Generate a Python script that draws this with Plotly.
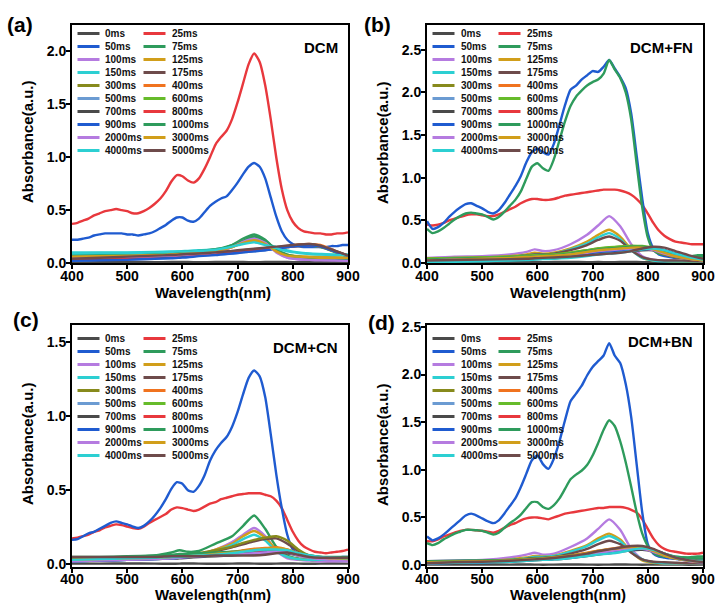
import plotly.graph_objects as go

# ---------------------------------------------------------------------------
# Wavelength grids (nm)
# ---------------------------------------------------------------------------
WL_FINE = list(range(400, 901, 10))
WL_COARSE = [400, 450, 500, 550, 580, 595, 610, 630, 660, 690,
             710, 730, 750, 770, 790, 810, 830, 850, 875, 900]

LABELS = ["0ms", "25ms", "50ms", "75ms", "100ms", "125ms", "150ms", "175ms",
          "300ms", "400ms", "500ms", "600ms", "700ms", "800ms", "900ms",
          "1000ms", "2000ms", "3000ms", "4000ms", "5000ms"]

COLORS = ["#4a4a4a", "#e8383d", "#1f5bd0", "#2e9b5c", "#b57be0", "#d19e1a",
          "#2ccfd2", "#6e4b4b", "#878a1c", "#f0731f", "#6b9bd2", "#66bb2a"]

Y_TICKS = [0.0, 0.5, 1.0, 1.5, 2.0, 2.5]
X_TICKS = [400, 500, 600, 700, 800, 900]

# ---------------------------------------------------------------------------
# DCM
# ---------------------------------------------------------------------------
DCM_0 = [0.010, 0.009, 0.010, 0.008, 0.009, 0.010, 0.009, 0.008, 0.009, 0.010,
         0.009, 0.008, 0.009, 0.010, 0.009, 0.008, 0.009, 0.010, 0.009, 0.008]
DCM_25 = [0.37, 0.38, 0.40, 0.42, 0.45, 0.47, 0.49, 0.50, 0.51, 0.50,
          0.49, 0.47, 0.47, 0.49, 0.52, 0.56, 0.61, 0.68, 0.77, 0.83,
          0.82, 0.78, 0.76, 0.80, 0.89, 1.00, 1.12, 1.19, 1.25, 1.36,
          1.52, 1.70, 1.88, 1.98, 1.90, 1.68, 1.36, 1.00, 0.70, 0.50,
          0.39, 0.33, 0.30, 0.29, 0.28, 0.28, 0.27, 0.27, 0.28, 0.28,
          0.29]
DCM_50 = [0.22, 0.22, 0.23, 0.24, 0.26, 0.27, 0.28, 0.28, 0.28, 0.28,
          0.27, 0.27, 0.26, 0.27, 0.28, 0.30, 0.33, 0.36, 0.40, 0.43,
          0.43, 0.40, 0.39, 0.42, 0.48, 0.54, 0.58, 0.61, 0.63, 0.69,
          0.76, 0.84, 0.91, 0.945, 0.91, 0.80, 0.62, 0.44, 0.30, 0.22,
          0.18, 0.16, 0.15, 0.15, 0.15, 0.15, 0.15, 0.16, 0.16, 0.17,
          0.17]
DCM_75 = [0.07, 0.075, 0.08, 0.085, 0.09, 0.095, 0.10, 0.105, 0.12, 0.17,
          0.23, 0.27, 0.22, 0.12, 0.06, 0.04, 0.035, 0.03, 0.03, 0.03]
DCM_100 = [0.06, 0.065, 0.07, 0.075, 0.08, 0.085, 0.09, 0.095, 0.11, 0.16,
           0.21, 0.24, 0.20, 0.11, 0.05, 0.035, 0.03, 0.03, 0.025, 0.025]
DCM_125 = [0.05, 0.055, 0.06, 0.07, 0.075, 0.08, 0.085, 0.09, 0.105, 0.15,
           0.19, 0.22, 0.19, 0.12, 0.08, 0.065, 0.06, 0.06, 0.055, 0.05]
DCM_150 = [0.10, 0.10, 0.10, 0.105, 0.11, 0.11, 0.115, 0.12, 0.13, 0.16,
           0.19, 0.20, 0.18, 0.15, 0.12, 0.10, 0.09, 0.085, 0.08, 0.08]
DCM_175 = [0.03, 0.04, 0.05, 0.06, 0.07, 0.075, 0.08, 0.085, 0.095, 0.11,
           0.12, 0.13, 0.14, 0.15, 0.16, 0.17, 0.175, 0.16, 0.11, 0.06]
DCM_300 = [0.04, 0.045, 0.05, 0.06, 0.065, 0.07, 0.075, 0.08, 0.09, 0.105,
           0.115, 0.125, 0.135, 0.145, 0.155, 0.165, 0.17, 0.155, 0.11, 0.07]
DCM_400 = [0.03, 0.04, 0.045, 0.055, 0.06, 0.065, 0.07, 0.08, 0.09, 0.10,
           0.11, 0.12, 0.13, 0.145, 0.16, 0.175, 0.18, 0.17, 0.12, 0.07]
DCM_500 = [0.02, 0.03, 0.035, 0.045, 0.05, 0.055, 0.06, 0.07, 0.08, 0.09,
           0.10, 0.11, 0.12, 0.135, 0.15, 0.16, 0.17, 0.16, 0.115, 0.065]
DCM_600 = [0.05, 0.055, 0.06, 0.065, 0.07, 0.075, 0.08, 0.085, 0.095, 0.105,
           0.115, 0.125, 0.13, 0.14, 0.15, 0.16, 0.165, 0.15, 0.105, 0.06]
DCM_700 = [0.03, 0.04, 0.045, 0.055, 0.06, 0.065, 0.07, 0.075, 0.085, 0.10,
           0.11, 0.12, 0.13, 0.14, 0.155, 0.165, 0.17, 0.16, 0.115, 0.07]
DCM_800 = [0.04, 0.045, 0.05, 0.06, 0.065, 0.07, 0.075, 0.08, 0.09, 0.10,
           0.11, 0.12, 0.13, 0.14, 0.15, 0.16, 0.165, 0.155, 0.11, 0.065]
DCM_900 = [0.02, 0.025, 0.03, 0.04, 0.045, 0.05, 0.055, 0.065, 0.075, 0.09,
           0.10, 0.11, 0.12, 0.135, 0.15, 0.16, 0.165, 0.155, 0.11, 0.06]
DCM_1000 = [0.08, 0.085, 0.09, 0.095, 0.10, 0.105, 0.11, 0.115, 0.13, 0.17,
            0.21, 0.25, 0.21, 0.13, 0.08, 0.06, 0.05, 0.045, 0.04, 0.04]
DCM_2000 = [0.05, 0.055, 0.06, 0.065, 0.07, 0.075, 0.08, 0.09, 0.10, 0.15,
            0.20, 0.23, 0.19, 0.10, 0.05, 0.035, 0.03, 0.025, 0.025, 0.02]
DCM_3000 = [0.06, 0.065, 0.07, 0.075, 0.08, 0.085, 0.09, 0.095, 0.11, 0.15,
            0.19, 0.215, 0.18, 0.11, 0.07, 0.06, 0.055, 0.05, 0.05, 0.05]
DCM_4000 = [0.09, 0.095, 0.095, 0.10, 0.105, 0.11, 0.11, 0.115, 0.125, 0.155,
            0.18, 0.195, 0.17, 0.14, 0.11, 0.095, 0.085, 0.08, 0.075, 0.075]
DCM_5000 = [0.04, 0.05, 0.06, 0.07, 0.075, 0.08, 0.085, 0.09, 0.10, 0.115,
            0.125, 0.135, 0.145, 0.155, 0.165, 0.175, 0.18, 0.165, 0.12, 0.07]

# ---------------------------------------------------------------------------
# DCM+FN
# ---------------------------------------------------------------------------
FN_0 = [0.012, 0.010, 0.011, 0.010, 0.012, 0.011, 0.010, 0.011, 0.012, 0.010,
        0.011, 0.010, 0.011, 0.012, 0.010, 0.011, 0.010, 0.011, 0.010, 0.011]
FN_25 = [0.45, 0.44, 0.45, 0.47, 0.50, 0.52, 0.54, 0.56, 0.57, 0.57,
         0.56, 0.55, 0.55, 0.57, 0.60, 0.63, 0.66, 0.70, 0.73, 0.75,
         0.75, 0.74, 0.74, 0.75, 0.77, 0.79, 0.80, 0.81, 0.82, 0.83,
         0.84, 0.85, 0.86, 0.86, 0.86, 0.85, 0.83, 0.80, 0.75, 0.68,
         0.58, 0.47, 0.38, 0.32, 0.28, 0.25, 0.24, 0.23, 0.22, 0.22,
         0.22]
FN_50 = [0.49, 0.40, 0.42, 0.47, 0.54, 0.60, 0.65, 0.69, 0.70, 0.67,
         0.64, 0.60, 0.58, 0.62, 0.70, 0.80, 0.90, 1.02, 1.18, 1.30,
         1.34, 1.30, 1.27, 1.40, 1.62, 1.85, 2.03, 2.08, 2.15, 2.20,
         2.25, 2.24, 2.30, 2.38, 2.28, 2.18, 2.05, 1.75, 1.25, 0.75,
         0.35, 0.17, 0.10, 0.08, 0.07, 0.06, 0.06, 0.05, 0.05, 0.05,
         0.05]
FN_75 = [0.40, 0.35, 0.37, 0.41, 0.46, 0.51, 0.55, 0.58, 0.59, 0.58,
         0.57, 0.54, 0.51, 0.54, 0.60, 0.67, 0.74, 0.84, 0.99, 1.13,
         1.17, 1.11, 1.08, 1.22, 1.44, 1.66, 1.84, 1.95, 2.02, 2.08,
         2.12, 2.15, 2.22, 2.38, 2.27, 2.17, 2.00, 1.68, 1.15, 0.65,
         0.30, 0.15, 0.11, 0.10, 0.09, 0.08, 0.08, 0.08, 0.08, 0.09,
         0.09]
FN_100 = [0.06, 0.075, 0.08, 0.10, 0.13, 0.16, 0.14, 0.15, 0.22, 0.33,
          0.44, 0.55, 0.43, 0.22, 0.08, 0.04, 0.03, 0.03, 0.025, 0.02]
FN_125 = [0.05, 0.06, 0.065, 0.08, 0.10, 0.12, 0.11, 0.12, 0.17, 0.25,
          0.33, 0.39, 0.31, 0.16, 0.06, 0.03, 0.025, 0.02, 0.02, 0.02]
FN_150 = [0.03, 0.04, 0.05, 0.07, 0.09, 0.10, 0.10, 0.11, 0.16, 0.23,
          0.30, 0.35, 0.28, 0.15, 0.06, 0.03, 0.02, 0.02, 0.02, 0.02]
FN_175 = [0.04, 0.05, 0.06, 0.07, 0.09, 0.10, 0.10, 0.11, 0.15, 0.21,
          0.27, 0.31, 0.26, 0.15, 0.07, 0.04, 0.03, 0.03, 0.025, 0.02]
FN_300 = [0.05, 0.055, 0.06, 0.07, 0.08, 0.09, 0.09, 0.10, 0.12, 0.15,
          0.17, 0.18, 0.19, 0.20, 0.19, 0.15, 0.10, 0.07, 0.05, 0.04]
FN_400 = [0.04, 0.05, 0.055, 0.065, 0.075, 0.08, 0.085, 0.09, 0.11, 0.14,
          0.16, 0.17, 0.18, 0.19, 0.19, 0.16, 0.11, 0.08, 0.06, 0.04]
FN_500 = [0.02, 0.03, 0.035, 0.045, 0.055, 0.06, 0.065, 0.07, 0.09, 0.11,
          0.13, 0.14, 0.15, 0.16, 0.17, 0.175, 0.15, 0.11, 0.07, 0.04]
FN_600 = [0.05, 0.06, 0.065, 0.075, 0.085, 0.09, 0.095, 0.10, 0.12, 0.15,
          0.17, 0.185, 0.195, 0.20, 0.20, 0.18, 0.14, 0.10, 0.07, 0.05]
FN_700 = [0.02, 0.025, 0.03, 0.035, 0.04, 0.045, 0.05, 0.055, 0.07, 0.09,
          0.11, 0.12, 0.13, 0.14, 0.15, 0.15, 0.13, 0.10, 0.06, 0.03]
FN_800 = [0.03, 0.035, 0.04, 0.05, 0.06, 0.065, 0.07, 0.075, 0.09, 0.11,
          0.13, 0.14, 0.15, 0.16, 0.17, 0.17, 0.15, 0.11, 0.07, 0.04]
FN_900 = [0.02, 0.025, 0.03, 0.04, 0.05, 0.055, 0.06, 0.065, 0.08, 0.10,
          0.12, 0.13, 0.14, 0.15, 0.16, 0.165, 0.15, 0.11, 0.07, 0.04]
FN_1000 = [0.04, 0.05, 0.055, 0.065, 0.075, 0.08, 0.085, 0.09, 0.11, 0.14,
           0.16, 0.17, 0.18, 0.19, 0.19, 0.17, 0.13, 0.10, 0.08, 0.08]
FN_2000 = [0.03, 0.04, 0.045, 0.055, 0.065, 0.07, 0.075, 0.08, 0.10, 0.12,
           0.14, 0.15, 0.16, 0.17, 0.17, 0.15, 0.11, 0.08, 0.05, 0.03]
FN_3000 = [0.03, 0.04, 0.05, 0.06, 0.07, 0.075, 0.08, 0.085, 0.10, 0.13,
           0.15, 0.16, 0.17, 0.18, 0.18, 0.16, 0.12, 0.08, 0.05, 0.03]
FN_4000 = [0.01, 0.015, 0.02, 0.03, 0.035, 0.04, 0.045, 0.05, 0.06, 0.08,
           0.10, 0.11, 0.12, 0.14, 0.16, 0.17, 0.15, 0.11, 0.07, 0.04]
FN_5000 = [0.03, 0.035, 0.04, 0.045, 0.05, 0.055, 0.06, 0.065, 0.075, 0.09,
           0.10, 0.11, 0.12, 0.14, 0.17, 0.19, 0.18, 0.14, 0.09, 0.05]

# ---------------------------------------------------------------------------
# DCM+CN
# ---------------------------------------------------------------------------
CN_0 = [0.006, 0.005, 0.006, 0.005, 0.004, 0.005, 0.006, 0.005, 0.004, 0.005,
        0.006, 0.005, 0.004, 0.005, 0.006, 0.005, 0.004, 0.005, 0.006, 0.005]
CN_25 = [0.175, 0.18, 0.19, 0.20, 0.22, 0.23, 0.25, 0.26, 0.27, 0.265,
         0.255, 0.245, 0.24, 0.255, 0.28, 0.30, 0.32, 0.34, 0.37, 0.385,
         0.38, 0.37, 0.36, 0.37, 0.39, 0.41, 0.42, 0.44, 0.45, 0.46,
         0.47, 0.475, 0.48, 0.48, 0.48, 0.47, 0.46, 0.43, 0.38, 0.30,
         0.22, 0.16, 0.12, 0.10, 0.085, 0.08, 0.075, 0.08, 0.085, 0.09,
         0.10]
CN_50 = [0.165, 0.17, 0.19, 0.21, 0.22, 0.24, 0.26, 0.28, 0.29, 0.28,
         0.27, 0.255, 0.245, 0.26, 0.29, 0.33, 0.38, 0.44, 0.51, 0.555,
         0.545, 0.50, 0.49, 0.53, 0.60, 0.70, 0.77, 0.82, 0.86, 0.93,
         1.03, 1.15, 1.26, 1.31, 1.27, 1.13, 0.88, 0.61, 0.38, 0.20,
         0.10, 0.07, 0.055, 0.05, 0.045, 0.04, 0.04, 0.04, 0.045, 0.05,
         0.05]
CN_75 = [0.04, 0.045, 0.05, 0.06, 0.08, 0.095, 0.085, 0.09, 0.14, 0.19,
         0.26, 0.33, 0.24, 0.12, 0.06, 0.04, 0.035, 0.03, 0.03, 0.03]
CN_100 = [0.03, 0.035, 0.04, 0.045, 0.05, 0.06, 0.06, 0.07, 0.10, 0.15,
          0.20, 0.245, 0.19, 0.09, 0.04, 0.03, 0.025, 0.02, 0.02, 0.02]
CN_125 = [0.03, 0.035, 0.04, 0.045, 0.05, 0.055, 0.06, 0.07, 0.10, 0.14,
          0.19, 0.225, 0.18, 0.10, 0.05, 0.035, 0.03, 0.03, 0.03, 0.03]
CN_150 = [0.02, 0.025, 0.03, 0.035, 0.04, 0.045, 0.05, 0.06, 0.09, 0.13,
          0.17, 0.20, 0.16, 0.09, 0.05, 0.035, 0.03, 0.03, 0.03, 0.03]
CN_175 = [0.03, 0.035, 0.04, 0.045, 0.05, 0.055, 0.06, 0.07, 0.09, 0.115,
          0.135, 0.155, 0.17, 0.175, 0.14, 0.09, 0.06, 0.05, 0.04, 0.03]
CN_300 = [0.04, 0.04, 0.045, 0.05, 0.055, 0.06, 0.065, 0.075, 0.095, 0.12,
          0.145, 0.165, 0.18, 0.19, 0.16, 0.10, 0.06, 0.05, 0.04, 0.035]
CN_400 = [0.03, 0.035, 0.04, 0.045, 0.05, 0.055, 0.06, 0.065, 0.075, 0.085,
          0.095, 0.105, 0.11, 0.115, 0.10, 0.07, 0.05, 0.04, 0.035, 0.03]
CN_500 = [0.02, 0.025, 0.03, 0.035, 0.04, 0.045, 0.05, 0.055, 0.065, 0.075,
          0.08, 0.085, 0.09, 0.095, 0.09, 0.07, 0.05, 0.04, 0.03, 0.03]
CN_600 = [0.04, 0.045, 0.05, 0.055, 0.06, 0.065, 0.065, 0.07, 0.075, 0.08,
          0.085, 0.09, 0.095, 0.10, 0.09, 0.07, 0.055, 0.045, 0.04, 0.04]
CN_700 = [0.02, 0.025, 0.03, 0.035, 0.04, 0.04, 0.045, 0.05, 0.055, 0.06,
          0.065, 0.07, 0.075, 0.08, 0.075, 0.06, 0.05, 0.04, 0.035, 0.03]
CN_800 = [0.03, 0.035, 0.04, 0.045, 0.05, 0.055, 0.055, 0.06, 0.065, 0.07,
          0.075, 0.08, 0.085, 0.09, 0.085, 0.07, 0.055, 0.045, 0.04, 0.04]
CN_900 = [0.02, 0.025, 0.03, 0.035, 0.04, 0.045, 0.05, 0.055, 0.06, 0.065,
          0.07, 0.075, 0.08, 0.085, 0.08, 0.065, 0.05, 0.04, 0.035, 0.03]
CN_1000 = [0.05, 0.05, 0.055, 0.06, 0.065, 0.07, 0.07, 0.075, 0.08, 0.085,
           0.09, 0.095, 0.10, 0.105, 0.095, 0.075, 0.06, 0.05, 0.05, 0.05]
CN_2000 = [0.02, 0.025, 0.03, 0.035, 0.04, 0.045, 0.05, 0.055, 0.06, 0.065,
           0.07, 0.075, 0.08, 0.085, 0.08, 0.06, 0.045, 0.035, 0.03, 0.03]
CN_3000 = [0.03, 0.035, 0.04, 0.045, 0.05, 0.055, 0.055, 0.06, 0.07, 0.08,
           0.09, 0.10, 0.105, 0.11, 0.10, 0.075, 0.055, 0.045, 0.04, 0.035]
CN_4000 = [0.03, 0.035, 0.04, 0.045, 0.05, 0.05, 0.055, 0.06, 0.065, 0.075,
           0.085, 0.095, 0.10, 0.10, 0.095, 0.075, 0.06, 0.05, 0.045, 0.04]
CN_5000 = [0.05, 0.05, 0.05, 0.05, 0.055, 0.055, 0.055, 0.055, 0.06, 0.06,
           0.06, 0.06, 0.065, 0.075, 0.08, 0.065, 0.05, 0.045, 0.045, 0.045]

# ---------------------------------------------------------------------------
# DCM+BN
# ---------------------------------------------------------------------------
BN_0 = [0.006, 0.005, 0.006, 0.005, 0.006, 0.005, 0.004, 0.005, 0.006, 0.005,
        0.004, 0.005, 0.006, 0.005, 0.004, 0.005, 0.006, 0.005, 0.004, 0.005]
BN_25 = [0.25, 0.25, 0.27, 0.30, 0.32, 0.34, 0.36, 0.37, 0.37, 0.365,
         0.36, 0.35, 0.34, 0.36, 0.39, 0.42, 0.44, 0.47, 0.49, 0.50,
         0.50, 0.49, 0.48, 0.50, 0.52, 0.54, 0.55, 0.56, 0.57, 0.58,
         0.59, 0.60, 0.60, 0.61, 0.61, 0.61, 0.60, 0.58, 0.55, 0.48,
         0.38, 0.28, 0.21, 0.17, 0.15, 0.14, 0.13, 0.12, 0.12, 0.12,
         0.13]
BN_50 = [0.30, 0.26, 0.28, 0.32, 0.37, 0.42, 0.47, 0.52, 0.54, 0.52,
         0.49, 0.46, 0.44, 0.47, 0.54, 0.62, 0.70, 0.82, 0.96, 1.10,
         1.15, 1.06, 1.01, 1.12, 1.30, 1.52, 1.72, 1.80, 1.88, 1.99,
         2.08, 2.14, 2.20, 2.33, 2.20, 2.12, 1.90, 1.55, 1.05, 0.55,
         0.22, 0.12, 0.09, 0.08, 0.07, 0.065, 0.06, 0.06, 0.055, 0.05,
         0.05]
BN_75 = [0.23, 0.21, 0.23, 0.27, 0.30, 0.33, 0.35, 0.37, 0.37, 0.365,
         0.36, 0.34, 0.32, 0.34, 0.39, 0.44, 0.48, 0.53, 0.60, 0.66,
         0.66, 0.61, 0.59, 0.63, 0.70, 0.80, 0.90, 0.95, 0.99, 1.05,
         1.15, 1.28, 1.42, 1.52, 1.46, 1.30, 1.08, 0.82, 0.55, 0.33,
         0.20, 0.13, 0.10, 0.09, 0.085, 0.08, 0.08, 0.08, 0.085, 0.09,
         0.09]
BN_100 = [0.04, 0.05, 0.055, 0.08, 0.11, 0.13, 0.11, 0.12, 0.19, 0.28,
          0.38, 0.48, 0.37, 0.17, 0.06, 0.03, 0.02, 0.02, 0.02, 0.02]
BN_125 = [0.03, 0.04, 0.045, 0.06, 0.08, 0.095, 0.09, 0.10, 0.15, 0.21,
          0.28, 0.33, 0.27, 0.14, 0.05, 0.025, 0.02, 0.02, 0.02, 0.02]
BN_150 = [0.03, 0.035, 0.04, 0.055, 0.07, 0.085, 0.085, 0.095, 0.14, 0.20,
          0.26, 0.305, 0.25, 0.14, 0.06, 0.03, 0.02, 0.02, 0.02, 0.02]
BN_175 = [0.03, 0.035, 0.04, 0.05, 0.065, 0.075, 0.075, 0.085, 0.12, 0.17,
          0.22, 0.255, 0.22, 0.13, 0.06, 0.035, 0.03, 0.025, 0.02, 0.02]
BN_300 = [0.03, 0.035, 0.04, 0.05, 0.06, 0.065, 0.07, 0.08, 0.10, 0.125,
          0.145, 0.16, 0.175, 0.19, 0.19, 0.15, 0.10, 0.07, 0.05, 0.04]
BN_400 = [0.03, 0.035, 0.04, 0.05, 0.06, 0.065, 0.07, 0.08, 0.10, 0.13,
          0.15, 0.17, 0.185, 0.195, 0.19, 0.15, 0.10, 0.07, 0.05, 0.04]
BN_500 = [0.02, 0.025, 0.03, 0.04, 0.05, 0.055, 0.06, 0.065, 0.085, 0.11,
          0.13, 0.145, 0.16, 0.175, 0.18, 0.16, 0.12, 0.08, 0.05, 0.03]
BN_600 = [0.03, 0.035, 0.04, 0.05, 0.055, 0.06, 0.065, 0.075, 0.095, 0.12,
          0.14, 0.155, 0.17, 0.185, 0.185, 0.15, 0.10, 0.07, 0.05, 0.04]
BN_700 = [0.02, 0.025, 0.03, 0.035, 0.045, 0.05, 0.055, 0.06, 0.075, 0.095,
          0.11, 0.125, 0.14, 0.155, 0.16, 0.14, 0.10, 0.07, 0.045, 0.03]
BN_800 = [0.03, 0.035, 0.04, 0.045, 0.055, 0.06, 0.065, 0.07, 0.085, 0.105,
          0.125, 0.14, 0.155, 0.17, 0.175, 0.15, 0.11, 0.08, 0.055, 0.04]
BN_900 = [0.02, 0.025, 0.03, 0.04, 0.05, 0.055, 0.06, 0.065, 0.08, 0.10,
          0.12, 0.135, 0.15, 0.165, 0.17, 0.15, 0.11, 0.075, 0.05, 0.035]
BN_1000 = [0.04, 0.045, 0.05, 0.055, 0.065, 0.07, 0.075, 0.08, 0.10, 0.12,
           0.14, 0.155, 0.17, 0.185, 0.19, 0.16, 0.12, 0.09, 0.075, 0.07]
BN_2000 = [0.02, 0.03, 0.035, 0.045, 0.055, 0.06, 0.065, 0.07, 0.09, 0.11,
           0.13, 0.145, 0.16, 0.17, 0.17, 0.14, 0.10, 0.07, 0.04, 0.03]
BN_3000 = [0.03, 0.035, 0.04, 0.05, 0.06, 0.065, 0.07, 0.08, 0.10, 0.125,
           0.15, 0.165, 0.18, 0.19, 0.185, 0.15, 0.10, 0.07, 0.045, 0.035]
BN_4000 = [0.02, 0.025, 0.03, 0.035, 0.045, 0.05, 0.055, 0.06, 0.075, 0.095,
           0.11, 0.12, 0.135, 0.16, 0.175, 0.16, 0.12, 0.08, 0.05, 0.035]
BN_5000 = [0.02, 0.03, 0.035, 0.045, 0.055, 0.06, 0.065, 0.075, 0.095, 0.12,
           0.145, 0.165, 0.185, 0.20, 0.20, 0.17, 0.12, 0.08, 0.05, 0.03]

# ---------------------------------------------------------------------------
# Panel table
# ---------------------------------------------------------------------------
PANELS = [
    dict(tag="(a)", name="DCM", ymax=2.0, yrange=[0.0, 2.25],
         box=(72, 25, 348, 263), tagxy=(5, 24), namey=48, legtop=33.5,
         xtitle_gap=29, xlab_shift=-5,
         series=[DCM_0, DCM_25, DCM_50, DCM_75, DCM_100, DCM_125, DCM_150,
                 DCM_175, DCM_300, DCM_400, DCM_500, DCM_600, DCM_700,
                 DCM_800, DCM_900, DCM_1000, DCM_2000, DCM_3000, DCM_4000,
                 DCM_5000]),
    dict(tag="(b)", name="DCM+FN", ymax=2.5, yrange=[0.0, 2.79],
         box=(427, 25, 703, 263), tagxy=(362, 24), namey=48, legtop=33.5,
         xtitle_gap=29, xlab_shift=-5,
         series=[FN_0, FN_25, FN_50, FN_75, FN_100, FN_125, FN_150, FN_175,
                 FN_300, FN_400, FN_500, FN_600, FN_700, FN_800, FN_900,
                 FN_1000, FN_2000, FN_3000, FN_4000, FN_5000]),
    dict(tag="(c)", name="DCM+CN", ymax=1.5, yrange=[-0.018, 1.617],
         box=(72, 325, 348, 567), tagxy=(11, 319), namey=347, legtop=338.5,
         xtitle_gap=27, xlab_shift=-6,
         series=[CN_0, CN_25, CN_50, CN_75, CN_100, CN_125, CN_150, CN_175,
                 CN_300, CN_400, CN_500, CN_600, CN_700, CN_800, CN_900,
                 CN_1000, CN_2000, CN_3000, CN_4000, CN_5000]),
    dict(tag="(d)", name="DCM+BN", ymax=2.5, yrange=[-0.02, 2.52],
         box=(427, 325, 703, 567), tagxy=(366, 322), namey=341, legtop=338.5,
         xtitle_gap=27, xlab_shift=-6,
         series=[BN_0, BN_25, BN_50, BN_75, BN_100, BN_125, BN_150, BN_175,
                 BN_300, BN_400, BN_500, BN_600, BN_700, BN_800, BN_900,
                 BN_1000, BN_2000, BN_3000, BN_4000, BN_5000]),
]

W, H = 717, 603
FONT = "Arial, Liberation Sans, sans-serif"


def px(x):
    return x / W


def py(y):
    return 1 - y / H


fig = go.Figure()
layout = dict(width=W, height=H, margin=dict(l=0, r=0, t=0, b=0, pad=0),
              autosize=False, paper_bgcolor="white", plot_bgcolor="white",
              showlegend=False)
annotations = []
shapes = []

for k, p in enumerate(PANELS, start=1):
    sfx = "" if k == 1 else str(k)
    L, T, R, B = p["box"]

    # spectra, drawn in acquisition order
    for i, (lab, vals) in enumerate(zip(LABELS, p["series"])):
        wl = WL_FINE if len(vals) == len(WL_FINE) else WL_COARSE
        fig.add_trace(go.Scatter(
            x=wl, y=vals, mode="lines", name=lab,
            line=dict(color=COLORS[i % len(COLORS)], width=2.4,
                      shape="spline", smoothing=0.6),
            xaxis="x" + sfx, yaxis="y" + sfx, hoverinfo="skip"))

    axis_common = dict(showline=True, linecolor="black", linewidth=2,
                       mirror=True, ticks="outside", ticklen=4, tickwidth=2,
                       tickcolor="black", showgrid=False, zeroline=False,
                       automargin=False,
                       tickfont=dict(family=FONT, size=14, color="black",
                                     weight="bold"))
    layout["xaxis" + sfx] = dict(axis_common, domain=[px(L), px(R)],
                                 range=[400, 900], tickvals=X_TICKS,
                                 ticklabelstandoff=p["xlab_shift"],
                                 anchor="y" + sfx)
    layout["yaxis" + sfx] = dict(axis_common, domain=[py(B), py(T)],
                                 range=p["yrange"],
                                 tickvals=[t for t in Y_TICKS if t <= p["ymax"]],
                                 tickformat=".1f", ticklabelstandoff=-3,
                                 anchor="x" + sfx)

    # axis titles
    annotations.append(dict(text="Wavelength(nm)", xref="paper", yref="paper",
                            x=px((L + R) / 2 + 3), y=py(B + p["xtitle_gap"]),
                            xanchor="center", yanchor="middle", showarrow=False,
                            font=dict(family=FONT, size=15, color="black",
                                      weight="bold")))
    annotations.append(dict(text="Absorbance(a.u.)", xref="paper", yref="paper",
                            x=px(L - 45), y=py((T + B) / 2 - 2), textangle=-90,
                            xanchor="center", yanchor="middle", showarrow=False,
                            font=dict(family=FONT, size=15, color="black",
                                      weight="bold")))
    # panel tag and sample name
    annotations.append(dict(text=p["tag"], xref="paper", yref="paper",
                            x=px(p["tagxy"][0]), y=py(p["tagxy"][1]),
                            xanchor="left", yanchor="middle", showarrow=False,
                            font=dict(family=FONT, size=21, color="black",
                                      weight="bold")))
    annotations.append(dict(text=p["name"], xref="paper", yref="paper",
                            x=px(R - 8), y=py(p["namey"]),
                            xanchor="right", yanchor="middle", showarrow=False,
                            font=dict(family=FONT, size=15, color="black",
                                      weight="bold")))

    # two-column legend, filled row by row
    for i, lab in enumerate(LABELS):
        col, row = i % 2, i // 2
        x0 = L + (5.5 if col == 0 else 71.5)
        yc = p["legtop"] + 13 * row
        shapes.append(dict(type="line", xref="paper", yref="paper",
                           x0=px(x0), x1=px(x0 + 22), y0=py(yc), y1=py(yc),
                           line=dict(color=COLORS[i % len(COLORS)], width=3)))
        annotations.append(dict(text=lab, xref="paper", yref="paper",
                                x=px(x0 + 26), y=py(yc), xanchor="left",
                                yanchor="middle", showarrow=False,
                                font=dict(family=FONT, size=10, color="#111111",
                                          weight="bold")))

layout["annotations"] = annotations
layout["shapes"] = shapes
fig.update_layout(**layout)
fig.write_html("out.html")
